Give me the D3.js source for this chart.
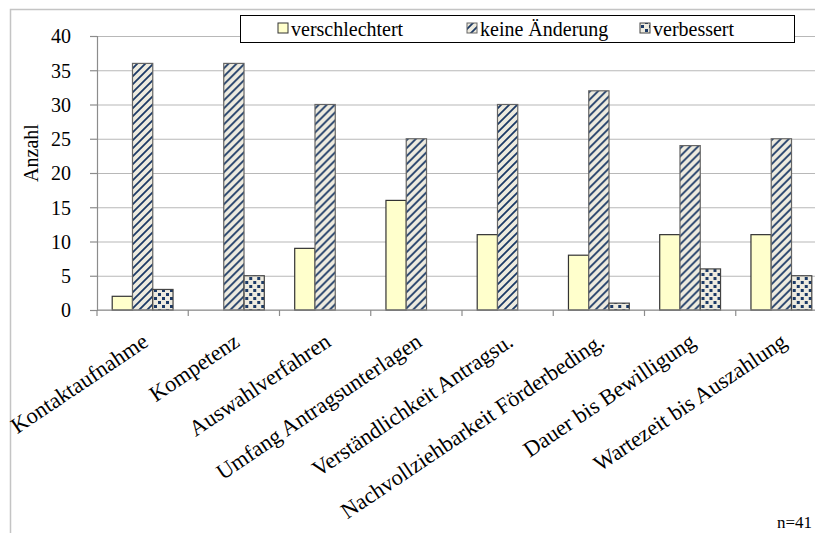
<!DOCTYPE html>
<html>
<head>
<meta charset="utf-8">
<script src="https://cdn.jsdelivr.net/npm/d3@7"></script>
<style>
  body { margin: 0; background: #fff; }
  svg { display: block; font-family: "Liberation Serif", "Times New Roman", serif; }
</style>
</head>
<body>
<div id="chart"></div>
<script>
// Data
const categories = [
  "Kontaktaufnahme", "Kompetenz", "Auswahlverfahren", "Umfang Antragsunterlagen",
  "Verständlichkeit Antragsu.", "Nachvollziehbarkeit Förderbeding.",
  "Dauer bis Bewilligung", "Wartezeit bis Auszahlung"
];
const seriesNames = ["verschlechtert", "keine Änderung", "verbessert"];
const verschlechtert = [2, 0, 9, 16, 11, 8, 11, 11];
const keineAenderung = [36, 36, 30, 25, 30, 32, 24, 25];
const verbessert = [3, 5, 0, 0, 0, 1, 6, 5];
const yTicks = [0, 5, 10, 15, 20, 25, 30, 35, 40];

const W = 815, H = 533;
const plot = { left: 97, right: 827, top: 36, bottom: 310 };
const NAVY = "#1c3a66", BEIGE = "#eeebdf";

const svg = d3.select("#chart").append("svg")
  .attr("width", W).attr("height", H);

const defs = svg.append("defs");

// diagonal stripes for "keine Änderung"
const stripes = defs.append("pattern")
  .attr("id", "stripes")
  .attr("patternUnits", "userSpaceOnUse")
  .attr("width", 8).attr("height", 8);
stripes.append("rect").attr("width", 8).attr("height", 8).attr("fill", BEIGE);
stripes.append("path")
  .attr("d", "M-2,2 L2,-2 M0,8 L8,0 M6,10 L10,6")
  .attr("stroke", NAVY).attr("stroke-width", 1.8);

// small squares for "verbessert"
const dots = defs.append("pattern")
  .attr("id", "dots")
  .attr("patternUnits", "userSpaceOnUse")
  .attr("width", 8).attr("height", 8);
dots.append("rect").attr("width", 8).attr("height", 8).attr("fill", BEIGE);
dots.append("rect").attr("x", 1).attr("y", 1).attr("width", 3).attr("height", 3).attr("fill", NAVY);
dots.append("rect").attr("x", 5).attr("y", 5).attr("width", 3).attr("height", 3).attr("fill", NAVY);

const fills = ["#ffffcc", "url(#stripes)", "url(#dots)"];
const strokes = ["#333", "#666", "#444"];

// chart frame
svg.append("rect")
  .attr("x", 10.5).attr("y", 9.5)
  .attr("width", 900).attr("height", 600)
  .attr("fill", "none").attr("stroke", "#c4c4c4").attr("stroke-width", 1.5);

const x = d3.scaleBand().domain(categories).range([plot.left, plot.right]);
const y = d3.scaleLinear().domain([0, 40]).range([plot.bottom, plot.top]);
const bw = x.bandwidth() / 4.5;
const x1 = d3.scaleBand().domain(seriesNames).range([x.bandwidth() / 6, x.bandwidth() / 6 + 3 * bw]);

// gridlines
svg.append("g")
  .attr("transform", `translate(${plot.left},0)`)
  .call(d3.axisLeft(y).tickValues(yTicks).tickSize(-(plot.right - plot.left)).tickFormat(""))
  .call(g => g.select(".domain").remove())
  .call(g => g.selectAll("line").attr("stroke", "#b8b8b8").attr("stroke-width", 1.2));

// y axis
svg.append("g")
  .attr("transform", `translate(${plot.left},0)`)
  .call(d3.axisLeft(y).tickValues(yTicks).tickSize(7).tickPadding(19))
  .call(g => g.attr("font-family", null))
  .call(g => g.select(".domain").attr("stroke", "#8c8c8c").attr("stroke-width", 1.2))
  .call(g => g.selectAll("line").attr("stroke", "#8c8c8c").attr("stroke-width", 1.2))
  .call(g => g.selectAll("text")
    .attr("font-size", 20).attr("fill", "#000")
    .attr("dy", "0.34em"));

// bars
const data = [verschlechtert, keineAenderung, verbessert];
categories.forEach((c, i) => {
  const g = svg.append("g").attr("transform", `translate(${x(c)},0)`);
  seriesNames.forEach((s, k) => {
    const v = data[k][i];
    if (v <= 0) return;
    g.append("rect")
      .attr("x", x1(s)).attr("y", y(v))
      .attr("width", x1.bandwidth()).attr("height", y(0) - y(v))
      .attr("fill", fills[k])
      .attr("stroke", strokes[k]).attr("stroke-width", 1.2);
  });
});

// x axis line and tick marks at category boundaries
const xg = svg.append("g");
xg.append("line")
  .attr("x1", plot.left).attr("x2", plot.right)
  .attr("y1", y(0)).attr("y2", y(0))
  .attr("stroke", "#8c8c8c").attr("stroke-width", 1.2);
categories.forEach(c => {
  xg.append("line")
    .attr("x1", x(c)).attr("x2", x(c))
    .attr("y1", y(0)).attr("y2", y(0) + 6)
    .attr("stroke", "#8c8c8c").attr("stroke-width", 1.2);
});

// rotated category labels
categories.forEach(c => {
  const cx = x(c) + x.bandwidth() / 2;
  svg.append("text")
    .attr("transform", `translate(${cx + 7},${y(0) + 35}) rotate(-34)`)
    .attr("text-anchor", "end")
    .attr("font-size", 22.3)
    .attr("fill", "#000")
    .text(c);
});

// y axis title
svg.append("text")
  .attr("transform", `translate(38,153) rotate(-90)`)
  .attr("text-anchor", "middle")
  .attr("font-size", 20)
  .text("Anzahl");

// legend
const lg = svg.append("g");
lg.append("rect")
  .attr("x", 240.5).attr("y", 15.5).attr("width", 554).attr("height", 27)
  .attr("fill", "#fff").attr("stroke", "#000").attr("stroke-width", 1);
const legendX = [278, 467, 640];
seriesNames.forEach((s, k) => {
  lg.append("rect")
    .attr("x", legendX[k]).attr("y", 23).attr("width", 10).attr("height", 10)
    .attr("fill", fills[k]).attr("stroke", strokes[k]).attr("stroke-width", 1);
  lg.append("text")
    .attr("x", legendX[k] + 13).attr("y", 36)
    .attr("font-size", 20)
    .text(s);
});

// sample size note
svg.append("text")
  .attr("x", 812).attr("y", 528)
  .attr("text-anchor", "end")
  .attr("font-size", 17)
  .text("n=41");
</script>
</body>
</html>
